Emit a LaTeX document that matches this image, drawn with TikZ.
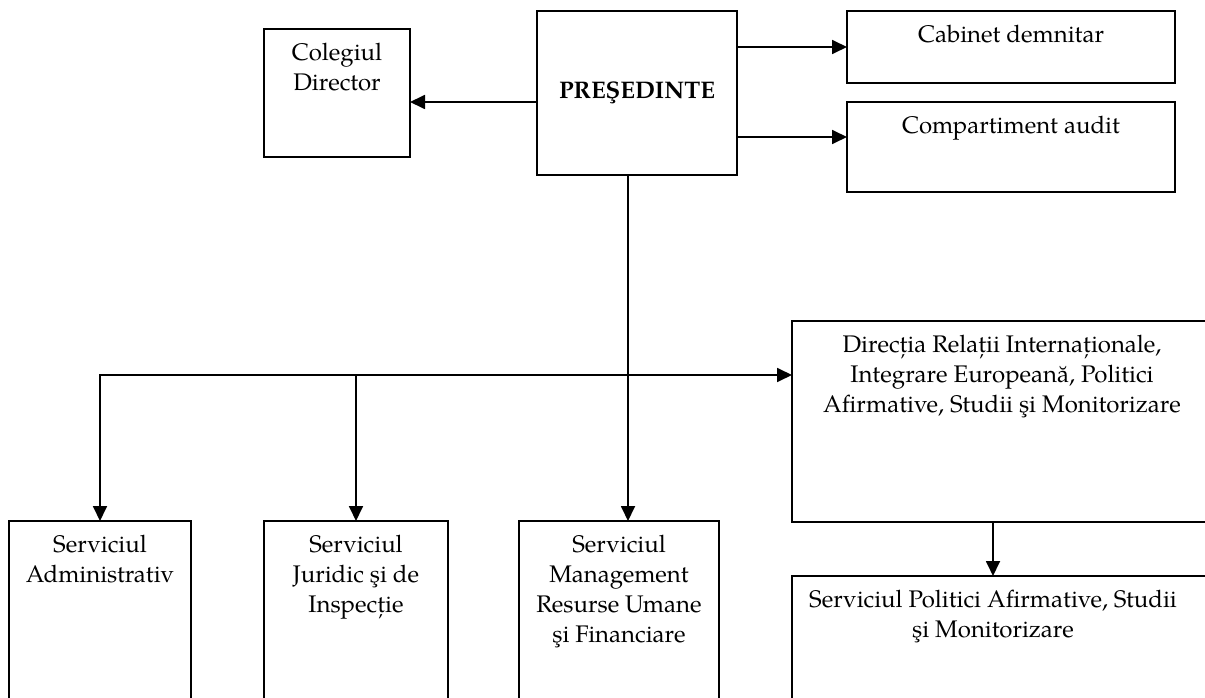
\documentclass[tikz,border=0pt]{standalone}
\usepackage{fontspec}
\setmainfont{TeX Gyre Pagella}
\usetikzlibrary{arrows.meta}
\begin{document}
\begin{tikzpicture}[x=1pt,y=-1pt,
  box/.style={draw,line width=1.8pt,anchor=north west,inner sep=0pt,outer sep=0pt},
  txt/.style={anchor=north,align=center,inner sep=0pt,font=\fontsize{24}{30}\selectfont},
  ln/.style={line width=1.8pt},
  arr/.style={line width=1.8pt,-{Triangle[length=15pt,width=14pt]}}]
\clip (0,0) rectangle (1205,698);
% boxes
\node[box,minimum width=146pt,minimum height=128pt] (coleg) at (264,29) {};
\node[box,minimum width=200pt,minimum height=164pt] (pres) at (537,11) {};
\node[box,minimum width=328pt,minimum height=72pt] (cab) at (847,11) {};
\node[box,minimum width=328pt,minimum height=90pt] (comp) at (847,102) {};
\node[box,minimum width=420pt,minimum height=201pt] (dir) at (792,321) {};
\node[box,minimum width=440pt,minimum height=200pt] (spol) at (792,576) {};
\node[box,minimum width=182pt,minimum height=200pt] (sadm) at (9,521) {};
\node[box,minimum width=184pt,minimum height=200pt] (sjur) at (264,521) {};
\node[box,minimum width=200pt,minimum height=200pt] (smgm) at (519,521) {};
% coordinates
\coordinate (hl) at (100,375);
\coordinate (vx) at (628,0);
\coordinate (ax) at (993,0);
\coordinate (ya) at (0,102);
\coordinate (yb) at (0,137);
% texts
\node[txt] (colegT) at ([yshift=-10pt]coleg.north) {\strut Colegiul\\Director};
\node[txt,anchor=center] (presT) at (pres.center) {\bfseries PREŞEDINTE};
\node[txt] (cabT) at ([yshift=-10pt]cab.north) {\strut Cabinet demnitar};
\node[txt] (compT) at ([yshift=-10pt]comp.north) {\strut Compartiment audit};
\node[txt] (dirT) at ([yshift=-10pt]dir.north) {\strut Direcția Relații Internaționale,\\Integrare Europeană, Politici\\Afirmative, Studii şi Monitorizare};
\node[txt] (spolT) at ([yshift=-10pt]spol.north -| ax) {\strut Serviciul Politici Afirmative, Studii\\şi Monitorizare};
\node[txt] (sadmT) at ([yshift=-10pt]sadm.north) {\strut Serviciul\\Administrativ};
\node[txt] (sjurT) at ([yshift=-10pt]sjur.north) {\strut Serviciul\\Juridic şi de\\Inspecție};
\node[txt] (smgmT) at ([yshift=-10pt]smgm.north) {\strut Serviciul\\Management\\Resurse Umane\\şi Financiare};
% connectors
\draw[arr] (pres.west |- ya) -- (coleg.east |- ya);
\draw[arr] (pres.east |- cab.west) -- (cab.west);
\draw[arr] (pres.east |- yb) -- (comp.west |- yb);
\draw[arr] (pres.south -| vx) -- (smgm.north -| vx);
\draw[ln,{Triangle[length=15pt,width=14pt]}-{Triangle[length=15pt,width=14pt]}] (sadm.north) -- (sadm.north |- hl) -- (dir.west |- hl);
\draw[arr] (sjur.north |- hl) -- (sjur.north);
\draw[arr] (dir.south -| ax) -- (spol.north -| ax);
\end{tikzpicture}
\end{document}
